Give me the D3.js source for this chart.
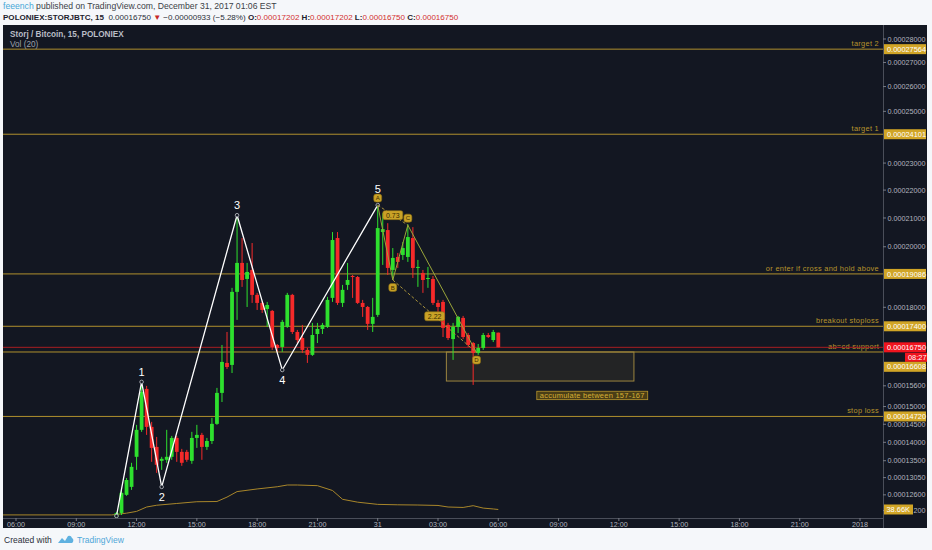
<!DOCTYPE html>
<html><head><meta charset="utf-8">
<script src="https://cdn.jsdelivr.net/npm/d3@7"></script>
<style>body{margin:0;background:#f5f7fa;} svg{display:block}</style>
</head><body><svg id="c" width="932" height="550"></svg>
<script>
// ---------------- DATA ----------------
const firstBar = "2017-12-30T11:00:00Z";   // 15-minute bars
const opens = [0.00012034,0.00012137,0.00012600,0.00012807,0.00013605,0.00014344,0.00015510,0.00014427,0.00013874,0.00013497,
0.00013524,0.00013605,0.00014120,0.00013739,0.00013739,0.00013497,0.00014120,0.00014204,0.00013874,0.00014036,
0.00014511,0.00015394,0.00016278,0.00016218,0.00018497,0.00019453,0.00018919,0.00019218,0.00018399,0.00018140,
0.00017947,0.00017884,0.00016822,0.00016761,0.00017380,0.00018399,0.00017223,0.00017035,0.00016671,0.00016520,
0.00017160,0.00017317,0.00017380,0.00018302,0.00020300,0.00018140,0.00018724,0.00019017,0.00018984,0.00018140,
0.00018010,0.00017475,0.00017758,0.00020507,0.00020576,0.00019218,0.00019654,0.00019721,0.00019654,0.00020300,
0.00019285,0.00019118,0.00018919,0.00018919,0.00018140,0.00018172,0.00017443,0.00017003,0.00017380,0.00017663,
0.00017129,0.00016882,0.00016580,0.00016731,0.00017129,0.00016973,0.00017202];
const highs = [0.00012162,0.00012729,0.00013040,0.00013444,0.00014483,0.00015714,0.00015598,0.00014567,0.00014148,0.00013605,
0.00014344,0.00014176,0.00014176,0.00013820,0.00013793,0.00014288,0.00014483,0.00014260,0.00014120,0.00014679,
0.00015539,0.00016822,0.00017223,0.00018627,0.00021097,0.00020300,0.00019453,0.00020128,0.00018464,0.00018205,
0.00018172,0.00017915,0.00016852,0.00017601,0.00018464,0.00018432,0.00017286,0.00017443,0.00016731,0.00017506,
0.00017506,0.00017506,0.00018334,0.00020507,0.00020507,0.00018724,0.00019453,0.00019050,0.00019017,0.00018237,
0.00018042,0.00018302,0.00021458,0.00021170,0.00020817,0.00019956,0.00019789,0.00020162,0.00020783,0.00020679,
0.00019554,0.00019218,0.00019319,0.00019017,0.00018237,0.00018237,0.00017506,0.00017506,0.00017726,0.00017726,
0.00017192,0.00016912,0.00016852,0.00017192,0.00017192,0.00017286,0.00017202];
const lows = [0.00012008,0.00012085,0.00012575,0.00012729,0.00013255,0.00014288,0.00014204,0.00013470,0.00013175,0.00013255,
0.00013444,0.00013524,0.00013470,0.00013363,0.00013470,0.00013417,0.00013847,0.00013524,0.00013793,0.00013954,
0.00014483,0.00015131,0.00016097,0.00015977,0.00017601,0.00018659,0.00018010,0.00018140,0.00017915,0.00017821,
0.00017380,0.00016671,0.00016610,0.00016610,0.00017349,0.00017160,0.00016882,0.00016580,0.00016278,0.00016490,
0.00016882,0.00017160,0.00017349,0.00018172,0.00018075,0.00018010,0.00018562,0.00018302,0.00018107,0.00017695,
0.00017286,0.00017223,0.00017695,0.00019386,0.00019050,0.00018886,0.00019285,0.00019554,0.00019487,0.00018951,
0.00018659,0.00018464,0.00018627,0.00018075,0.00017852,0.00017066,0.00016973,0.00016369,0.00017192,0.00017003,
0.00016761,0.00015627,0.00016520,0.00016671,0.00017035,0.00016912,0.00016750];
const closes = [0.00012137,0.00012652,0.00012987,0.00013336,0.00014344,0.00015423,0.00014427,0.00013847,0.00013390,0.00013551,
0.00013605,0.00014120,0.00013739,0.00013444,0.00013524,0.00014120,0.00014204,0.00013874,0.00014036,0.00014511,
0.00015394,0.00016308,0.00016157,0.00018497,0.00019453,0.00018886,0.00019151,0.00018399,0.00018140,0.00017915,
0.00018075,0.00016761,0.00016731,0.00017538,0.00018399,0.00017223,0.00016973,0.00016671,0.00016520,0.00017129,
0.00017317,0.00017443,0.00018237,0.00020231,0.00018140,0.00018562,0.00018886,0.00018984,0.00018140,0.00018010,
0.00017475,0.00017695,0.00020645,0.00020610,0.00019285,0.00019621,0.00019487,0.00019956,0.00020334,0.00019285,
0.00019319,0.00018886,0.00018951,0.00018140,0.00018010,0.00017349,0.00017035,0.00017380,0.00017695,0.00017066,
0.00016822,0.00016580,0.00016731,0.00017129,0.00017066,0.00017223,0.00016750];

// Volume MA(20), thousands
const volTimes = ["2017-12-30T05:00Z","2017-12-30T10:45Z","2017-12-30T11:00Z","2017-12-30T11:30Z","2017-12-30T12:00Z","2017-12-30T12:30Z",
"2017-12-30T13:00Z","2017-12-30T14:00Z","2017-12-30T15:00Z","2017-12-30T16:00Z","2017-12-30T16:30Z","2017-12-30T17:00Z",
"2017-12-30T18:00Z","2017-12-30T19:00Z","2017-12-30T19:30Z","2017-12-30T20:00Z","2017-12-30T21:00Z","2017-12-30T21:45Z",
"2017-12-30T22:15Z","2017-12-30T23:00Z","2017-12-31T00:00Z","2017-12-31T01:00Z","2017-12-31T02:00Z","2017-12-31T03:00Z",
"2017-12-31T03:30Z","2017-12-31T04:15Z","2017-12-31T04:30Z","2017-12-31T04:45Z","2017-12-31T05:15Z","2017-12-31T05:45Z","2017-12-31T06:00Z"];
const volMA = [14,14,16,22,30,50,58,66,74,75,95,120,132,142,150,150,147,125,85,72,62,60,59,57,50,48,52,56,45,41,38.66];

// Horizontal levels
const levelValues = [0.00027564,0.00024101,0.00019086,0.00017400,0.00016608,0.00014720];
const levelNames = ["target 2","target 1","or enter if cross and hold above","breakout stoploss","ab=cd support","stop loss"];

// Elliott wave
const waveTimes = ["2017-12-30T11:00Z","2017-12-30T12:15Z","2017-12-30T13:15Z","2017-12-30T17:00Z","2017-12-30T19:15Z","2017-12-31T00:00Z"];
const wavePrices = [0.00012059,0.00015714,0.00012807,0.00021097,0.00016067,0.00021458];
const waveLabels = ["","1","2","3","4","5"];

// ABCD pattern
const abcdTimes = ["2017-12-31T00:00Z","2017-12-31T00:45Z","2017-12-31T01:30Z","2017-12-31T04:55Z"];
const abcdPrices = [0.00021458,0.00018886,0.00020748,0.00016590];
const abcdLabels = ["A","B","C","D"];
const abcdRatios = ["0.73","2.22"];

// Accumulation box
const boxTimes = ["2017-12-31T03:25Z","2017-12-31T12:45Z"];
const boxPrices = [0.00016608,0.00015740];
const boxNoteTime = "2017-12-31T07:55Z", boxNotePrice = 0.00015320;
const boxNote = "accumulate between 157-167";

// Axes
const priceTicks = [0.00028,0.00027,0.00026,0.00025,0.00023,0.00022,0.00021,0.0002,0.00018,0.000156,0.00015,0.000145,0.00014,0.000135,0.0001305,0.000126,0.000122];
const axisStart = "2017-12-30T06:00Z", axisEnd = "2018-01-01T00:00Z";
const lastPrice = 0.00016750, countdown = "08:27", volLabel = "38.66K", volLast = 38.66;

// ---------------- DRAW ----------------
const svg = d3.select("#c");
const F = "'Liberation Sans', Arial, sans-serif";
const pane = {l:3, r:883, t:25, b:518};
const frame = {l:3, r:927, t:25, b:528};
const GOLD = "#c9a227", GREEN = "#2ee02e", RED = "#f52a2a";

svg.append("rect").attr("width",932).attr("height",550).attr("fill","#f5f7fa");

// header
const h1 = svg.append("text").attr("x",3).attr("y",9).attr("font-family",F).attr("font-size",8.65).attr("fill","#3b3f47");
h1.append("tspan").attr("fill","#48a8d8").text("feeench");
h1.append("tspan").text(" published on TradingView.com, December 31, 2017 01:06 EST");
const h2 = svg.append("text").attr("x",3).attr("y",19.5).attr("font-family",F).attr("font-size",8.05).attr("fill","#2a2e39");
const seg = [["POLONIEX:STORJBTC, 15","#1e222d",true],["  0.00016750 ","#2a2e39",false],["▼","#c62828",false],[" −0.00000933 (−5.28%) ","#2a2e39",false],
["O:","#1e222d",true],["0.00017202","#d32f2f",false],[" H:","#1e222d",true],["0.00017202","#d32f2f",false],
[" L:","#1e222d",true],["0.00016750","#d32f2f",false],[" C:","#1e222d",true],["0.00016750","#d32f2f",false]];
seg.forEach(s=>h2.append("tspan").attr("fill",s[1]).attr("font-weight",s[2]?"bold":"normal").attr("xml:space","preserve").text(s[0]));

// frame
svg.append("rect").attr("x",frame.l).attr("y",frame.t).attr("width",frame.r-frame.l).attr("height",frame.b-frame.t).attr("fill","#131722");

const x = d3.scaleUtc().domain([new Date(axisStart), new Date(axisEnd)]).range([16, 860]);
const y = d3.scaleSymlog().constant(1.04e-4).domain([0.00014, 0.00028]).range([442.3, 39]);
const yv = d3.scaleLinear().domain([0, 100]).range([518, 496]);

svg.append("defs").append("clipPath").attr("id","pc").append("rect")
  .attr("x",pane.l).attr("y",pane.t).attr("width",pane.r-pane.l).attr("height",pane.b-pane.t);
const g = svg.append("g").attr("clip-path","url(#pc)");

// legend
svg.append("text").attr("x",10).attr("y",37).attr("font-family",F).attr("font-size",8.2).attr("font-weight","bold").attr("fill","#b9bdc6").text("Storj / Bitcoin, 15, POLONIEX");
svg.append("text").attr("x",10).attr("y",47).attr("font-family",F).attr("font-size",8.2).attr("fill","#9da1aa").text("Vol (20)");

// volume MA
const vline = d3.line().x(d=>x(new Date(d[0]))).y(d=>yv(d[1]));
g.append("path").datum(volTimes.map((t,i)=>[t,volMA[i]])).attr("d",vline).attr("fill","none").attr("stroke","#a8862a").attr("stroke-width",1);

// horizontal levels
levelValues.forEach((v,i)=>{
  g.append("line").attr("x1",pane.l).attr("x2",pane.r).attr("y1",y(v)).attr("y2",y(v)).attr("stroke","#b0902e").attr("stroke-width",1);
  g.append("text").attr("x",pane.r-4).attr("y",y(v)-3).attr("text-anchor","end").attr("font-family",F).attr("font-size",7.4)
    .attr("letter-spacing",0.3).attr("fill","#b8952c").text(levelNames[i]);
});
// last price line
g.append("line").attr("x1",pane.l).attr("x2",pane.r).attr("y1",y(lastPrice)).attr("y2",y(lastPrice)).attr("stroke","#a81e22").attr("stroke-width",1);

// accumulation box
const bx0 = x(new Date(boxTimes[0])), bx1 = x(new Date(boxTimes[1]));
g.append("rect").attr("x",bx0).attr("y",y(boxPrices[0])).attr("width",bx1-bx0).attr("height",y(boxPrices[1])-y(boxPrices[0]))
  .attr("fill","rgba(150,125,60,0.13)").attr("stroke","#9c8540").attr("stroke-width",1);
const nx = x(new Date(boxNoteTime)), ny = y(boxNotePrice);
const nbg = g.append("rect");
const nt = g.append("text").attr("x",nx+3).attr("y",ny).attr("dy","0.35em").attr("font-family",F).attr("font-size",7.5).attr("letter-spacing",0.25).attr("fill","#d6ae35").text(boxNote);
const nw = nt.node().getComputedTextLength();
nbg.attr("x",nx).attr("y",ny-4.2).attr("width",nw+6).attr("height",8.4).attr("fill","#4a3e16").attr("stroke","#b8962e").attr("stroke-width",0.8);

// candles
const bars = closes.map((c,i)=>({t:d3.utcMinute.offset(new Date(firstBar), i*15), o:opens[i], h:highs[i], l:lows[i], c}));
const cg = g.append("g");
bars.forEach(d=>{
  const col = d.c>=d.o ? GREEN : RED;
  const cx = x(d.t);
  cg.append("line").attr("x1",cx).attr("x2",cx).attr("y1",y(d.h)).attr("y2",y(d.l)).attr("stroke",col).attr("stroke-width",1);
  const top = Math.min(y(d.o),y(d.c)), hh = Math.max(1, Math.abs(y(d.o)-y(d.c)));
  cg.append("rect").attr("x",cx-1.9).attr("width",3.8).attr("y",top).attr("height",hh).attr("fill",col);
});

// Elliott wave
const wp = waveTimes.map((t,i)=>[x(new Date(t)), y(wavePrices[i])]);
g.append("path").attr("d",d3.line()(wp)).attr("fill","none").attr("stroke","#ffffff").attr("stroke-width",1.3);
wp.forEach((p,i)=>{
  g.append("circle").attr("cx",p[0]).attr("cy",p[1]).attr("r",1.8).attr("fill","#131722").attr("stroke","#b0b3ba").attr("stroke-width",0.9);
});

// ABCD pattern
const ap = abcdTimes.map((t,i)=>[x(new Date(t)), y(abcdPrices[i])]);
g.append("path").attr("d",d3.line()(ap)).attr("fill","none").attr("stroke","#9aa53a").attr("stroke-width",1);
[[0,2],[1,3]].forEach((pr,k)=>{
  const a=ap[pr[0]], b=ap[pr[1]];
  g.append("line").attr("x1",a[0]).attr("y1",a[1]).attr("x2",b[0]).attr("y2",b[1]).attr("stroke","#a8923a").attr("stroke-width",1).attr("stroke-dasharray","3,2");
  const mx=(a[0]+b[0])/2, my=(a[1]+b[1])/2;
  g.append("rect").attr("x",mx-10).attr("y",my-4.5).attr("width",20).attr("height",9).attr("rx",2).attr("fill",GOLD).attr("stroke","#8a6d12").attr("stroke-width",0.6);
  g.append("text").attr("x",mx).attr("y",my).attr("dy","0.35em").attr("text-anchor","middle").attr("font-family",F).attr("font-size",7).attr("fill","#3a2c00").text(abcdRatios[k]);
});
ap.forEach((p,i)=>{
  const up = (i%2===0);
  const ly = p[1] + (up?-7:7.5);
  g.append("rect").attr("x",p[0]-4).attr("y",ly-4).attr("width",8).attr("height",8).attr("rx",2.5).attr("fill",GOLD).attr("stroke","#8a6d12").attr("stroke-width",0.6);
  g.append("text").attr("x",p[0]).attr("y",ly).attr("dy","0.35em").attr("text-anchor","middle").attr("font-family",F).attr("font-size",6).attr("fill","#3a2c00").text(abcdLabels[i]);
});
// wave numbers
wp.forEach((p,i)=>{
  if(!waveLabels[i]) return;
  const up = i%2===1;
  const off = i===5 ? -16 : (up ? -10 : 10);
  g.append("text").attr("x",p[0]).attr("y",p[1]+off).attr("dy","0.36em").attr("text-anchor","middle")
   .attr("font-family",F).attr("font-size",11).attr("fill","#ffffff").text(waveLabels[i]);
});

// axes lines
svg.append("line").attr("x1",pane.r+0.5).attr("x2",pane.r+0.5).attr("y1",frame.t).attr("y2",frame.b).attr("stroke","#4a4e59");
svg.append("line").attr("x1",frame.l).attr("x2",pane.r).attr("y1",pane.b+0.5).attr("y2",pane.b+0.5).attr("stroke","#4a4e59");

// price ticks
priceTicks.forEach(v=>{
  svg.append("line").attr("x1",pane.r).attr("x2",pane.r+3).attr("y1",y(v)).attr("y2",y(v)).attr("stroke","#787b86");
  const label = v===0.000122 ? v.toFixed(8).slice(-3) : v.toFixed(8);   // partly hidden behind volume tag
  svg.append("text").attr("x", v===0.000122 ? frame.r-1.5 : pane.r+4.5).attr("text-anchor", v===0.000122 ? "end" : "start")
    .attr("y",y(v)).attr("dy","0.35em").attr("font-family",F).attr("font-size",7.2).attr("fill","#b2b5be").text(label);
});

// time ticks
const fmt = d => d.getUTCHours()===0 ? (d.getUTCDate()===1 && d.getUTCMonth()===0 ? String(d.getUTCFullYear()) : String(d.getUTCDate())) : d3.utcFormat("%H:%M")(d);
x.ticks(d3.utcHour.every(3)).forEach(d=>{
  const tx = x(d);
  svg.append("line").attr("x1",tx).attr("x2",tx).attr("y1",pane.b).attr("y2",pane.b+3).attr("stroke","#787b86");
  svg.append("text").attr("x",tx).attr("y",pane.b+6.5).attr("dy","0.35em").attr("text-anchor","middle").attr("font-family",F).attr("font-size",7.2).attr("fill","#b2b5be").text(fmt(d));
});

// axis value labels (with collision push-down); countdown sticks to the last-price tag
const tags = levelValues.map(v=>({key:y(v), y:y(v), fill:"#d1a526", text:v.toFixed(8), w:42}));
tags.push({key:y(lastPrice), y:y(lastPrice), fill:"#f0141e", text:lastPrice.toFixed(8), w:42});
tags.push({key:y(lastPrice)+0.01, y:y(lastPrice)+10, fill:"#f0141e", text:countdown, w:22, right:true});
tags.sort((a,b)=>a.key-b.key);
let prevBottom = -Infinity;
tags.forEach(t=>{
  const hgt = t.right ? 9 : 10;
  let cy = t.y;
  if(cy - hgt/2 < prevBottom) cy = prevBottom + hgt/2;
  prevBottom = cy + hgt/2;
  const x0 = t.right ? frame.r - t.w : pane.r+1;
  svg.append("rect").attr("x",x0).attr("y",cy-hgt/2).attr("width",t.w).attr("height",hgt).attr("fill",t.fill);
  svg.append("text").attr("x",x0+3).attr("y",cy).attr("dy","0.35em").attr("font-family",F).attr("font-size",7.4).attr("fill","#ffffff").text(t.text);
});
// volume label
svg.append("rect").attr("x",pane.r+1).attr("y",yv(volLast)-5).attr("width",29).attr("height",10).attr("fill","#d1a526");
svg.append("text").attr("x",pane.r+3.5).attr("y",yv(volLast)).attr("dy","0.35em").attr("font-family",F).attr("font-size",7.4).attr("fill","#ffffff").text(volLabel);

// footer
svg.append("text").attr("x",4).attr("y",543).attr("font-family",F).attr("font-size",8.5).attr("fill","#2a2e39").text("Created with");
const lg = svg.append("g").attr("transform","translate(57,535)");
lg.append("path").attr("d","M1,8 L5,3 L8,6 L11,1 Q14,0 15,3 Q17,4 16,7 L15,8 Z").attr("fill","#5fb1e0");
svg.append("text").attr("x",77).attr("y",543).attr("font-family",F).attr("font-size",8.5).attr("fill","#4fa6d8").text("TradingView");
</script></body></html>
